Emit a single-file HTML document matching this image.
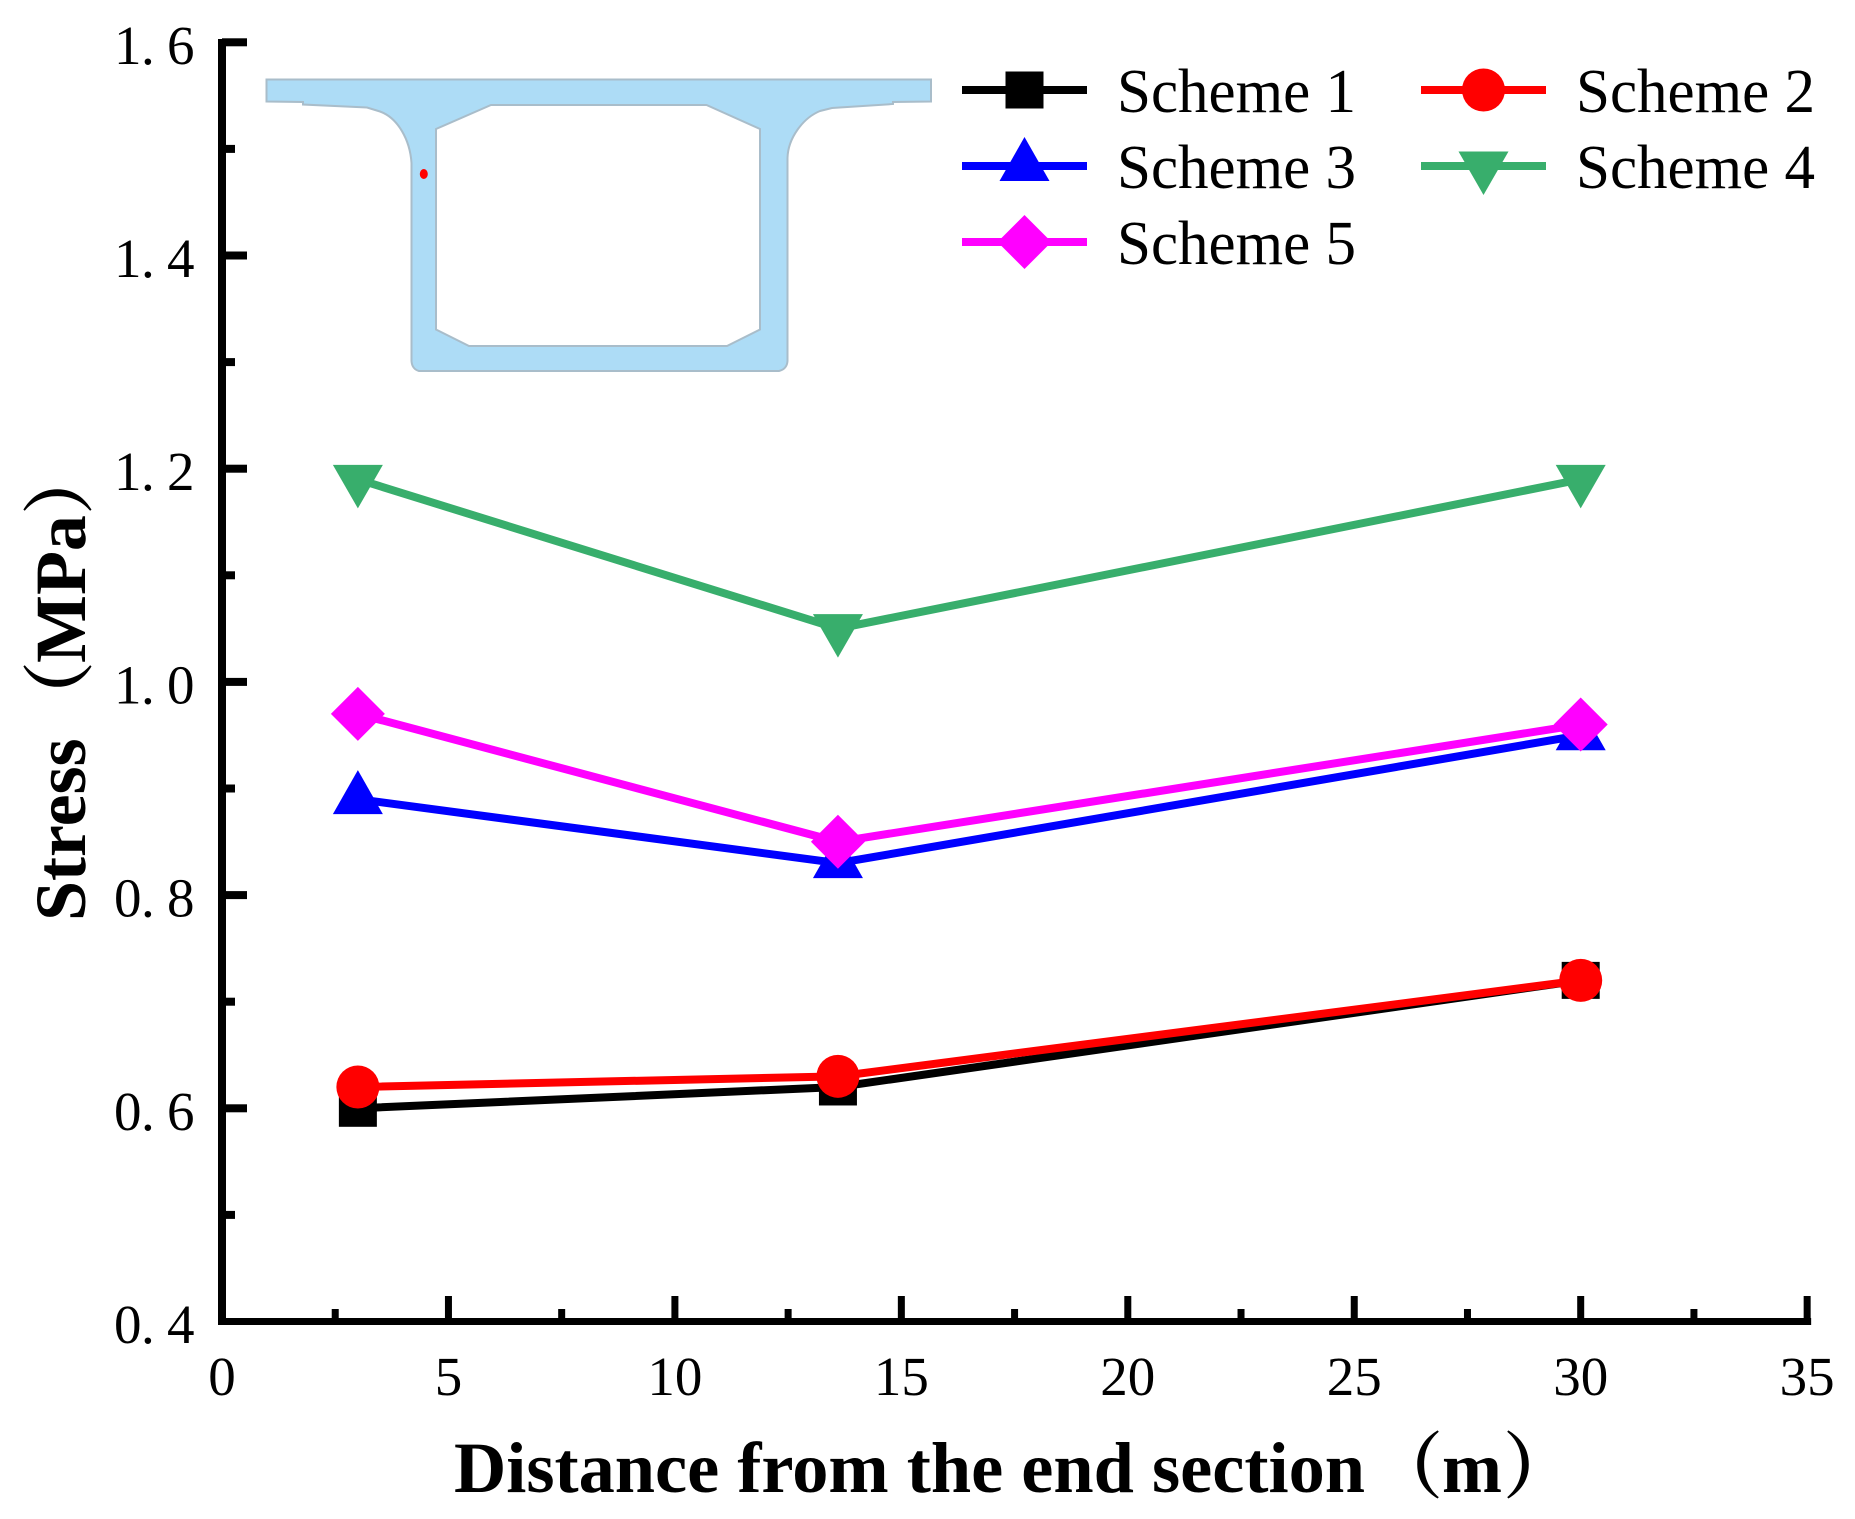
<!DOCTYPE html>
<html lang="en">
<head>
<meta charset="utf-8">
<title>Stress vs distance from the end section</title>
<style>
html,body{margin:0;padding:0;background:#fff;}
svg{display:block;}
text{fill:#000;}
.tick{font-family:"Liberation Serif","Noto Serif CJK SC",serif;font-size:55px;}
.legend{font-family:"Liberation Serif","Noto Serif CJK SC",serif;font-size:62px;}
.title{font-family:"Liberation Serif","Noto Serif CJK SC",serif;font-size:72px;font-weight:bold;}
</style>
</head>
<body>
<svg id="chart" xmlns="http://www.w3.org/2000/svg" width="1855" height="1519" viewBox="0 0 1855 1519">
  <rect x="0" y="0" width="1855" height="1519" fill="#ffffff"/>
  <g>
    <path fill="#addcf6" stroke="#a9bdca" stroke-width="2" fill-rule="evenodd"
      d="M266.5 79.5 L931 79.5 L931 101.5 L893 102 L893 104 L832 108 L820 111 C803 118 788 138 787.5 158 L787.5 361 Q787 369 779 371 L419 371 Q412 369 411.5 361 L411.5 163 C410 140 398 118 380 111.5 L367 107.5 L303 104.5 L303 102 L266.5 101.5 Z
         M491 105 L706.5 105 L760 129 L760 329.5 L727 346 L469 346 L436 329.5 L436 129 Z"/>
    <ellipse cx="423.8" cy="174" rx="4" ry="5" fill="#ff0000"/>
  </g>
  <g id="axes"></g>
  <g id="series"></g>
  <g id="legend"></g>
  <text class="title" y="1492"><tspan x="454" textLength="911" lengthAdjust="spacingAndGlyphs">Distance from the end section</tspan><tspan x="1371">（</tspan><tspan x="1442">m</tspan><tspan x="1503">）</tspan></text>
  <text class="title" transform="translate(85,921) rotate(-90)" y="0"><tspan x="0">Stress</tspan><tspan x="188">（</tspan><tspan x="258">MPa</tspan><tspan x="406">）</tspan></text>
</svg>
<script>
const xPositions = [3, 13.6, 30];
const scheme1Values = [0.60, 0.62, 0.72];
const scheme2Values = [0.62, 0.63, 0.72];
const scheme3Values = [0.89, 0.83, 0.95];
const scheme4Values = [1.19, 1.05, 1.19];
const scheme5Values = [0.97, 0.85, 0.96];
const seriesNames = ['Scheme 1', 'Scheme 2', 'Scheme 3', 'Scheme 4', 'Scheme 5'];
const xTickLabels = ['0', '5', '10', '15', '20', '25', '30', '35'];
const xMinorTicks = [2.5, 7.5, 12.5, 17.5, 22.5, 27.5, 32.5];
const yTickLabels = ['0.4', '0.6', '0.8', '1.0', '1.2', '1.4', '1.6'];
const yMinorTicks = [0.5, 0.7, 0.9, 1.1, 1.3, 1.5];

const NS = 'http://www.w3.org/2000/svg';
const X0 = 222, XU = 45.29;
const Y0 = 1321.5, YU = 1066;
function xScale(v) { return X0 + (v - 0) * XU; }
function yScale(v) { return Y0 - (v - 0.4) * YU; }

function make(tag, parent, attrs) {
  const el = document.createElementNS(NS, tag);
  for (const k in attrs) el.setAttribute(k, attrs[k]);
  parent.appendChild(el);
  return el;
}

function drawMarker(parent, kind, color, cx, cy, label) {
  let el;
  if (kind === 'square') {
    el = make('rect', parent, { x: cx - 19, y: cy - 18.5, width: 38, height: 37, fill: color });
  } else if (kind === 'circle') {
    el = make('circle', parent, { cx: cx, cy: cy, r: 21.5, fill: color });
  } else if (kind === 'up') {
    el = make('polygon', parent, { points: [[cx, cy - 29], [cx + 25, cy + 15], [cx - 25, cy + 15]].join(' '), fill: color });
  } else if (kind === 'down') {
    el = make('polygon', parent, { points: [[cx - 25, cy - 14.5], [cx + 25, cy - 14.5], [cx, cy + 29]].join(' '), fill: color });
  } else {
    el = make('polygon', parent, { points: [[cx, cy - 27], [cx + 27, cy], [cx, cy + 27], [cx - 27, cy]].join(' '), fill: color });
  }
  
  
}

const axes = document.getElementById('axes');

const yLine = make('rect', axes, { x: 218, y: 39, width: 8, height: 1286, fill: '#000' });



const xLine = make('rect', axes, { x: 218, y: 1318, width: 593, height: 7, fill: '#000' });
xLine.setAttribute('width', xScale(35) + 4 - 218);



xTickLabels.forEach(function (t) {
  const px = xScale(parseFloat(t));
  const tick = make('rect', axes, { x: px - 3.5, y: 1296, width: 7, height: 24, fill: '#000' });
  
  
  const label = make('text', axes, { x: px, y: 1395, 'text-anchor': 'middle', class: 'tick' });
  label.textContent = t;
  
  
});

xMinorTicks.forEach(function (t) {
  const tick = make('rect', axes, { x: xScale(t) - 3.5, y: 1309, width: 7, height: 11, fill: '#000' });
  
  
});

yTickLabels.forEach(function (t, i) {
  const py = yScale(parseFloat(t));
  const tick = make('rect', axes, { x: 222, y: i === 0 ? py - 3 : py - 4, width: 25, height: i === 0 ? 6 : 8, fill: '#000' });
  
  
  const label = make('text', axes, { x: '114 141 167', y: py + 21.5, class: 'tick' });
  label.textContent = t;
  
  
});

yMinorTicks.forEach(function (t) {
  const tick = make('rect', axes, { x: 222, y: yScale(t) - 4, width: 13, height: 8, fill: '#000' });
  
  
});

const seriesValues = [scheme1Values, scheme2Values, scheme3Values, scheme4Values, scheme5Values];
const seriesColors = ['#000000', '#ff0000', '#0000ff', '#38ae6c', '#ff00ff'];
const seriesMarkers = ['square', 'circle', 'up', 'down', 'diamond'];

const seriesGroup = document.getElementById('series');
seriesValues.forEach(function (values, i) {
  const g = make('g', seriesGroup, {});
  
  
  const pts = values.map(function (v, j) { return xScale(xPositions[j]) + ',' + yScale(v); }).join(' ');
  const line = make('polyline', g, { points: pts, fill: 'none', stroke: seriesColors[i], 'stroke-width': 8, 'stroke-linejoin': 'miter' });
  
  
  values.forEach(function (v, j) {
    drawMarker(g, seriesMarkers[i], seriesColors[i], xScale(xPositions[j]), yScale(v), 'point-scheme-' + (i + 1));
  });
});

const legend = document.getElementById('legend');
seriesNames.forEach(function (name, i) {
  const col = i % 2, row = Math.floor(i / 2);
  const cx = col === 0 ? 1024.5 : 1483.5;
  const cy = 90 + row * 76;
  const g = make('g', legend, {});
  
  
  const line = make('rect', g, { x: cx - 62.5, y: cy - 4, width: 125, height: 8, fill: seriesColors[i] });
  
  
  drawMarker(g, seriesMarkers[i], seriesColors[i], cx, cy, 'legend-marker');
  const label = make('text', g, { x: col === 0 ? 1117 : 1576, y: cy + 22, class: 'legend', textLength: 239, lengthAdjust: 'spacingAndGlyphs' });
  label.textContent = name;
  
  
});
</script>
</body>
</html>
